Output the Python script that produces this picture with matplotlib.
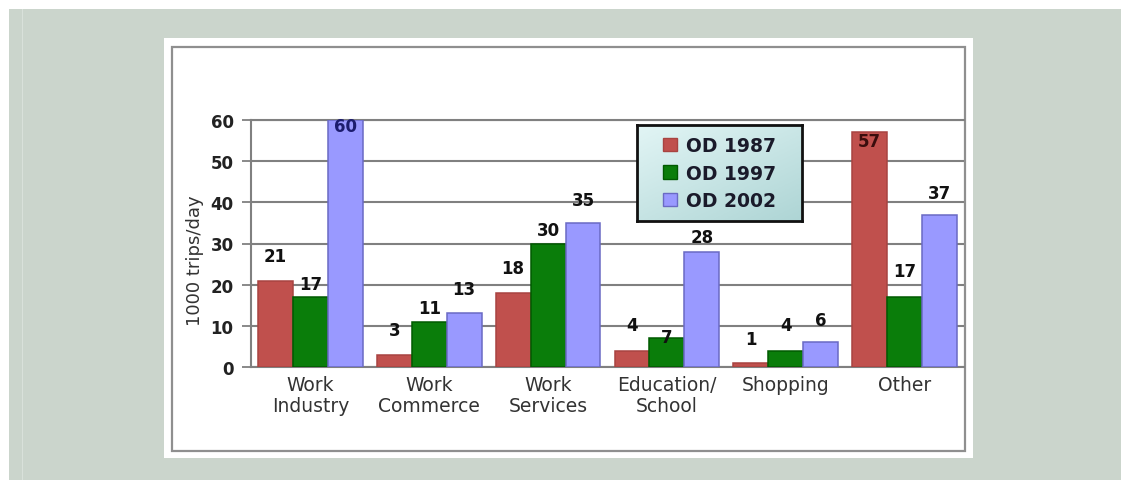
import numpy as np
import matplotlib
matplotlib.use("Agg")
import matplotlib.pyplot as plt
from matplotlib.patches import Rectangle, Patch

W, H = 1121, 481

categories = ["Work\nIndustry", "Work\nCommerce", "Work\nServices",
              "Education/\nSchool", "Shopping", "Other"]
od_1987 = [21, 3, 18, 4, 1, 57]
od_1997 = [17, 11, 30, 7, 4, 17]
od_2002 = [60, 13, 35, 28, 6, 37]
series_names = ["OD 1987", "OD 1997", "OD 2002"]
y_ticks = [0, 10, 20, 30, 40, 50, 60]

# where each value label sits relative to the top of its bar (data units)
label_shift = [
    [6.0, 5.9, 6.0, 6.1, 5.7, -2.2],
    [3.2, 3.3, 3.3, 0.3, 6.2, 6.2],
    [-1.5, 6.0, 5.5, 3.7, 5.3, 5.2],
]

fills = ["#c0504d", "#0a7d0a", "#9999ff"]
edges = ["#a84341", "#005a00", "#6a6ac4"]
label_colors = [["#111111"] * 5 + ["#3a0d0d"],
                ["#111111"] * 6,
                ["#1c1c6e"] + ["#111111"] * 5]
grid_col = "#808080"


def box(x0, y0, x1, y1):
    # pixel box (top-left origin) -> figure fraction [l, b, w, h]
    return [x0 / W, (H - y1) / H, (x1 - x0) / W, (y1 - y0) / H]


def backdrop(x0, y0, x1, y1, **kw):
    l, b, w, h = box(x0, y0, x1, y1)
    fig.patches.append(Rectangle((l, b), w, h, transform=fig.transFigure, zorder=-5, **kw))


fig = plt.figure(figsize=(W / 100, H / 100), dpi=100, facecolor="#cbd5cc")

# white strips along the top and left edge, and a faint line
backdrop(0, 0, W, 10, facecolor="white", edgecolor="none")
backdrop(0, 0, 9, H, facecolor="white", edgecolor="none")
backdrop(22, 10, 23, H, facecolor="#d9e1da", edgecolor="none")

# white card and its grey frame
backdrop(164, 39, 973, 459, facecolor="white", edgecolor="none")
backdrop(172, 48, 965, 452, facecolor="none", edgecolor="#8f8f8f", linewidth=1.6)

ax = fig.add_axes(box(251, 121, 964, 368))
ax.set_facecolor("none")

x = np.arange(len(categories))
bw = 0.294
for i, vals in enumerate([od_1987, od_1997, od_2002]):
    pos = x + (i - 1) * bw
    ax.bar(pos, vals, width=bw, color=fills[i], edgecolor=edges[i], linewidth=1.1,
           zorder=3, label=series_names[i])
    for j, v in enumerate(vals):
        ax.text(pos[j], v + label_shift[i][j], str(v), ha="center", va="center",
                fontsize=12, fontweight="bold", color=label_colors[i][j], zorder=4)

ax.set_xlim(-0.5, 5.5)
ax.set_ylim(0, 60)
ax.set_yticks(y_ticks)
ax.set_yticklabels([str(t) for t in y_ticks], fontsize=12, fontweight="bold", color="#222222")
ax.set_xticks(x)
ax.set_xticklabels(categories, fontsize=13.5, color="#333333", linespacing=1.1)
ax.tick_params(axis="y", length=6.5, width=1.3, color=grid_col, pad=6)
ax.tick_params(axis="x", length=0, pad=6)
ax.grid(axis="y", color=grid_col, linewidth=1.5, zorder=0)
ax.set_axisbelow(True)
for side in ["left", "bottom", "top"]:
    ax.spines[side].set_color(grid_col)
    ax.spines[side].set_linewidth(1.5)
ax.spines["right"].set_visible(False)

fig.text(195 / W, (H - 261) / H, "1000 trips/day", rotation=90, ha="center", va="center",
         fontsize=13, color="#333333")

# legend box with a soft cyan gradient
ax_leg = fig.add_axes(box(637, 126, 802, 222))
gx, gy = np.meshgrid(np.linspace(0, 1, 100), np.linspace(0, 1, 60))
grad = (gx * 0.45 + gy * 0.55)
ax_leg.imshow(grad, cmap=matplotlib.colors.LinearSegmentedColormap.from_list(
    "leg", ["#e2f5f5", "#aed5d5"]), extent=[0, 1, 0, 1], aspect="auto", origin="upper")
ax_leg.set_xticks([])
ax_leg.set_yticks([])
for s in ax_leg.spines.values():
    s.set_color("#111111")
    s.set_linewidth(2)
handles = [Patch(facecolor=fills[i], edgecolor=edges[i], label=series_names[i]) for i in range(3)]
ax_leg.legend(handles=handles, loc="center", frameon=False, handlelength=0.75, handleheight=0.75,
              handletextpad=0.5, labelspacing=0.45,
              prop={"size": 13.5, "weight": "bold"}, labelcolor="#1a1a2a")

fig.savefig("out.png", dpi=100, facecolor=fig.get_facecolor())
